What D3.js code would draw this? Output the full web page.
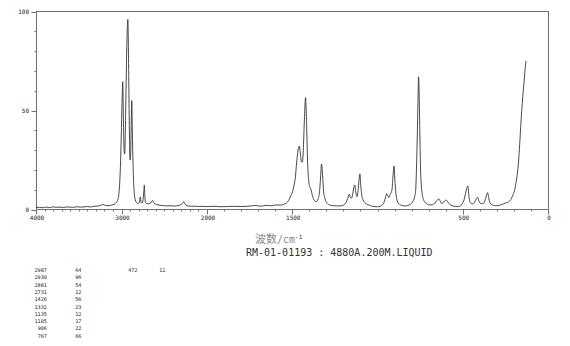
<!DOCTYPE html>
<html>
<head>
<meta charset="utf-8">
<script src="https://cdn.jsdelivr.net/npm/d3@7"></script>
<style>
  body { margin: 0; background: #fff; }
  svg { display: block; }
</style>
</head>
<body>
<div id="chart"></div>
<script>

// raman spectrum (wavenumber in cm-1, intensity 0..100)
var spectrumWn = [
  4000, 3960, 3920, 3880, 3840, 3800, 3760, 3720, 3680, 3640, 3600, 3560, 3520, 3480, 3440, 3400,
  3360, 3320, 3280, 3250, 3225, 3205, 3185, 3160, 3130, 3100, 3075, 3055, 3040, 3028, 3018, 3008,
  2998, 2990, 2985, 2980, 2974, 2968, 2962, 2956, 2948, 2940, 2932, 2926, 2920, 2914, 2908, 2900,
  2893, 2886, 2880, 2874, 2868, 2860, 2850, 2838, 2822, 2805, 2790, 2780, 2772, 2760, 2748, 2740,
  2733, 2726, 2718, 2700, 2680, 2660, 2645, 2635, 2622, 2600, 2570, 2540, 2500, 2460, 2420, 2380,
  2340, 2310, 2288, 2272, 2262, 2245, 2220, 2180, 2140, 2100, 2060, 2020, 2000,
  1960, 1920, 1880, 1840, 1800, 1770, 1740, 1718, 1700, 1680, 1660, 1648, 1630, 1610, 1590, 1570,
  1550, 1535, 1522, 1512, 1505, 1498, 1490, 1482, 1474, 1466, 1459, 1452, 1446, 1440, 1434, 1428,
  1422, 1416, 1410, 1404, 1397, 1390, 1382, 1370, 1358, 1348, 1340, 1334, 1328, 1322, 1316, 1308,
  1296, 1280, 1260, 1240, 1220, 1200, 1185, 1175, 1166, 1158, 1152, 1145, 1138, 1133, 1127, 1120,
  1114, 1108, 1103, 1098, 1092, 1084, 1072, 1060, 1040, 1020, 1000, 985, 970, 960, 952, 946,
  940, 933, 926, 915, 909, 903, 898, 892, 886, 878, 865, 850, 835, 815, 800, 790,
  782, 776, 771, 766, 762, 759, 756, 752, 748, 743, 738, 732, 725, 712, 700, 685,
  670, 658, 648, 640, 632, 624, 616, 606, 597, 588, 576, 562, 545, 525, 512, 502,
  492, 484, 477, 470, 464, 458, 450, 440, 430, 420, 413, 406, 398, 385, 375, 366,
  360, 354, 348, 341, 332, 320, 305, 290, 275, 260, 245, 230, 215, 205, 195, 185,
  178, 172, 166, 160, 154, 148, 142, 137, 133, 129
];
var spectrumInt = [
  1.0, 1.1, 0.9, 1.2, 1.0, 1.3, 1.1, 1.2, 1.0, 1.3, 1.2, 1.1, 1.4, 1.2, 1.3, 1.5,
  1.3, 1.6, 1.7, 2.0, 2.5, 2.4, 2.0, 1.9, 2.1, 2.4, 2.9, 3.8, 5.5, 9, 16, 28,
  46, 60, 64.5, 52, 36, 29, 28, 38, 58, 78, 92, 96, 84, 62, 40, 25,
  28, 44, 55, 42, 28, 16, 8, 4.8, 3.4, 3.0, 3.8, 6.4, 3.6, 3.3, 5, 9,
  12.4, 6, 3.4, 3.0, 2.9, 3.2, 4.2, 4.6, 3.4, 2.7, 2.3, 2.1, 1.9, 1.8, 1.9, 1.7,
  2.0, 2.4, 3.0, 4.0, 3.2, 2.2, 1.8, 1.6, 1.7, 1.5, 1.6, 1.5, 1.5,
  1.6, 1.4, 1.5, 1.6, 1.5, 1.6, 1.8, 2.1, 1.8, 1.7, 2.0, 2.1, 1.9, 2.1, 2.3, 2.2,
  2.6, 3.2, 4.5, 6.2, 7.5, 9, 12, 16, 24, 30, 32, 28, 24, 24, 33, 47,
  56.5, 44, 24, 15, 11.5, 10, 7, 4.5, 4, 5.5, 9, 16, 23, 17, 9, 5.5,
  3.2, 2.3, 1.9, 1.8, 1.8, 2.2, 3.5, 5.5, 7.8, 6, 5.7, 8, 11.5, 12.4, 8.5, 6.5,
  9.5, 15, 18, 12, 7, 4.8, 3.2, 2.6, 1.9, 1.5, 1.4, 1.6, 2.5, 4, 6.5, 8,
  7, 6, 7.5, 10, 17, 22, 15, 8, 5, 3.2, 2.3, 1.9, 1.8, 2.3, 3.2, 4.5,
  6.5, 10, 22, 40, 58, 67, 60, 40, 22, 12, 8, 5.5, 4, 3, 2.4, 2.3,
  2.8, 3.8, 5, 5.3, 4.2, 3, 3.4, 4.3, 4.8, 3.8, 2.6, 1.9, 1.6, 1.5, 2, 3,
  5, 8, 10.5, 11.9, 7, 4, 3, 2.8, 3.8, 5.5, 6.2, 4.5, 3.2, 3, 3.5, 5.5,
  7.5, 8.5, 6, 3.5, 2.6, 2.1, 1.9, 2.0, 2.4, 2.9, 3.4, 3.9, 5.5, 7.5, 10, 15,
  19.5, 25, 33, 42, 50, 57, 63, 68, 72, 75
];

// peak table printed under the chart
var peakWn  = [2987, 2930, 2881, 2731, 1426, 1332, 1135, 1105, 906, 767, 472];
var peakInt = [64, 96, 54, 12, 56, 23, 12, 17, 22, 66, 11];

var xTickLabels = [4000, 3000, 2000, 1500, 500, 0];
var yTickLabels = [0, 50, 100];
var xLabel = '\u6ce2\u6570/cm';
var sampleLine = 'RM-01-01193 : 4880A.200M.LIQUID';

var W = 570, H = 346;
var svg = d3.select('#chart').append('svg')
    .attr('width', W)
    .attr('height', H);

// axis is compressed above 2000 cm-1
var x = d3.scaleLinear().domain([4000, 2000, 0]).range([36, 207, 548]);
var y = d3.scaleLinear().domain([0, 100]).range([209.5, 11.5]);

var frame = '#707070';
var mono = 'DejaVu Sans Mono, monospace';

svg.append('rect')
    .attr('x', x(4000) + 0.5)
    .attr('y', y(100))
    .attr('width', x(0) - x(4000))
    .attr('height', y(0) - y(100))
    .attr('fill', 'none')
    .attr('stroke', frame)
    .attr('stroke-width', 1);

// y ticks
var yMinor = d3.range(0, 101, 10);
svg.selectAll('.ytick').data(yMinor).enter().append('line')
    .attr('class', 'ytick')
    .attr('x1', function(d) { return x(4000) + 0.5 - (d % 50 === 0 ? 5 : 2); })
    .attr('x2', x(4000) + 0.5)
    .attr('y1', function(d) { return Math.round(y(d)) + 0.5; })
    .attr('y2', function(d) { return Math.round(y(d)) + 0.5; })
    .attr('stroke', frame);

svg.selectAll('.ylab').data(yTickLabels).enter().append('text')
    .attr('class', 'ylab')
    .attr('x', 29)
    .attr('y', function(d) { return y(d) + 2; })
    .attr('text-anchor', 'end')
    .attr('font-family', mono)
    .attr('font-size', 6)
    .attr('fill', '#222')
    .text(function(d) { return d; });

// x ticks, every 100 cm-1
var xMinor = d3.range(0, 4001, 100);
svg.selectAll('.xtick').data(xMinor).enter().append('line')
    .attr('class', 'xtick')
    .attr('x1', function(d) { return Math.round(x(d)) + 0.5; })
    .attr('x2', function(d) { return Math.round(x(d)) + 0.5; })
    .attr('y1', y(0))
    .attr('y2', function(d) { return y(0) + (xTickLabels.indexOf(d) >= 0 ? 5 : 2); })
    .attr('stroke', frame);

svg.selectAll('.xlab').data(xTickLabels).enter().append('text')
    .attr('class', 'xlab')
    .attr('x', function(d) { return x(d) + 1; })
    .attr('y', 220)
    .attr('text-anchor', 'middle')
    .attr('font-family', mono)
    .attr('font-size', 6)
    .attr('fill', '#222')
    .text(function(d) { return d; });

// the spectrum
var pts = spectrumWn.map(function(w, i) { return [w, spectrumInt[i]]; });
var line = d3.line()
    .x(function(d) { return x(d[0]); })
    .y(function(d) { return y(d[1]); })
    .curve(d3.curveMonotoneX);

svg.append('path')
    .datum(pts)
    .attr('d', line)
    .attr('fill', 'none')
    .attr('stroke', '#333')
    .attr('stroke-width', 0.9);

// axis title and sample line
var title = svg.append('text')
    .attr('x', 255)
    .attr('y', 243)
    .attr('fill', '#8a8a8a')
    .attr('font-size', 11);
title.append('tspan')
    .attr('font-family', 'Noto Sans CJK SC')
    .text(xLabel.slice(0, 2));
title.append('tspan')
    .attr('font-family', mono)
    .attr('font-size', 10)
    .text(xLabel.slice(2));
title.append('tspan')
    .attr('font-family', mono)
    .attr('font-size', 6)
    .attr('dy', -4)
    .attr('fill', '#333')
    .text('-1');

svg.append('text')
    .attr('x', 246)
    .attr('y', 256)
    .attr('font-family', mono)
    .attr('font-size', 10)
    .attr('fill', '#333')
    .text(sampleLine);

// peak list, two columns of ten
var rows = peakWn.map(function(w, i) { return { wn: w, v: peakInt[i], col: Math.floor(i / 10), row: i % 10 }; });
var colX = [[47, 81.5], [137.5, 165.5]];

var g = svg.selectAll('.peak').data(rows).enter().append('g')
    .attr('class', 'peak')
    .attr('transform', function(d) { return 'translate(0,' + (272 + d.row * 7.3) + ')'; });
g.append('text')
    .attr('x', function(d) { return colX[d.col][0]; })
    .attr('text-anchor', 'end')
    .attr('font-family', mono)
    .attr('font-size', 5.2)
    .attr('fill', '#222')
    .text(function(d) { return d.wn; });
g.append('text')
    .attr('x', function(d) { return colX[d.col][1]; })
    .attr('text-anchor', 'end')
    .attr('font-family', mono)
    .attr('font-size', 5.2)
    .attr('fill', '#222')
    .text(function(d) { return d.v; });

</script>
</body>
</html>
